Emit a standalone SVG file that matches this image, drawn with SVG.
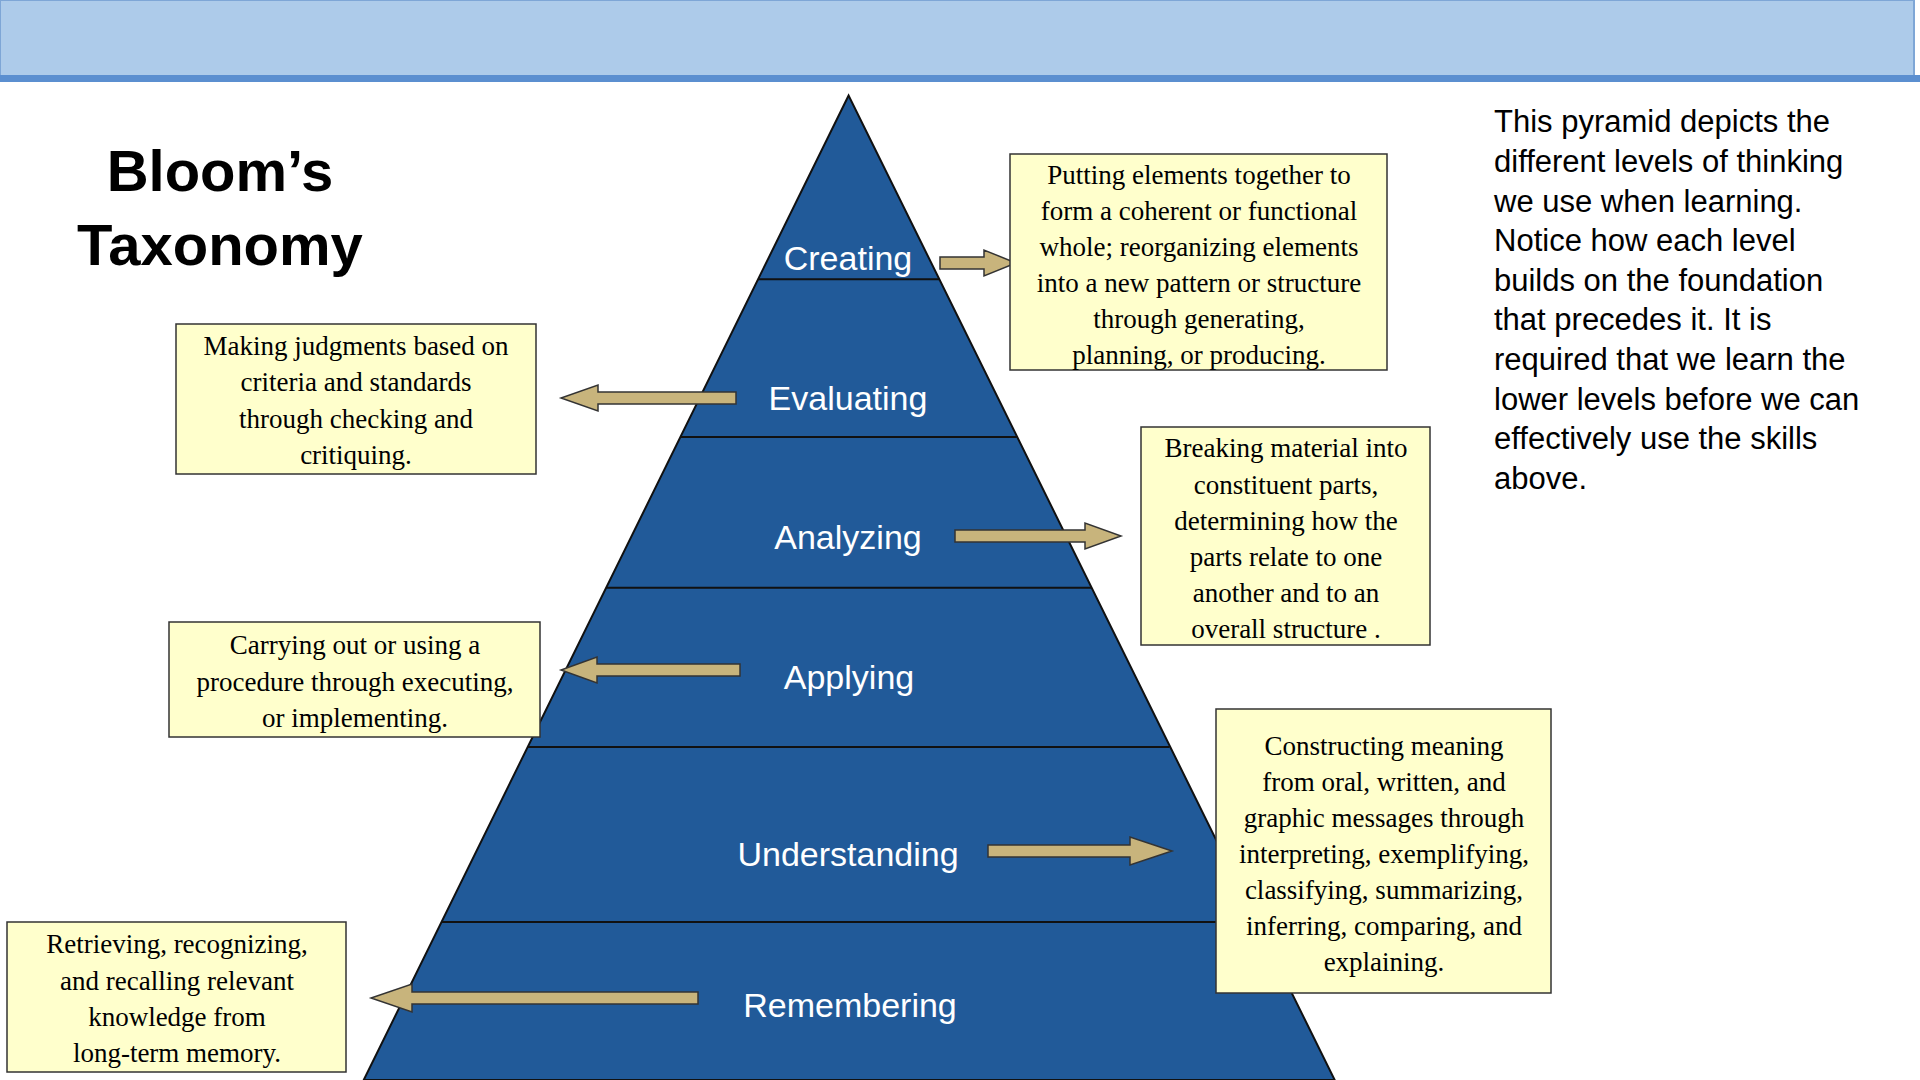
<svg xmlns="http://www.w3.org/2000/svg" width="1920" height="1080" viewBox="0 0 1920 1080">
<defs>
<style>
.box{fill:#ffffcc;stroke:#333;stroke-width:1.5}
.bt{font-family:"Liberation Serif",serif;font-size:27px;fill:#000;text-anchor:middle}
.lvl{font-family:"Liberation Sans",Arial,sans-serif;font-size:34px;fill:#fff;text-anchor:middle}
.arr{fill:#c8b47c;stroke:#333;stroke-width:1.5}
.div{stroke:#111;stroke-width:2}
.rt{font-family:"Liberation Sans",Arial,sans-serif;font-size:31px;fill:#000}
</style>
</defs>
<rect width="1920" height="1080" fill="#fff"/>
<rect x="0" y="0" width="1914" height="76" fill="#adcbea" stroke="#7ea6d6" stroke-width="2"/>
<rect x="0" y="75" width="1920" height="7" fill="#5b8fd0"/>
<g id="title" font-family="Liberation Sans,Arial,sans-serif" font-weight="bold" font-size="58" text-anchor="middle">
<text x="220" y="191">Bloom’s</text>
<text x="220" y="265">Taxonomy</text>
</g>
<g id="pyramid">
<polygon points="848.6,95.5 363.7,1080 1334.7,1080" fill="#215a99" stroke="#111" stroke-width="2"/>
<line class="div" x1="758.1" y1="279.2" x2="939.1" y2="279.2"/>
<line class="div" x1="680.3" y1="437.1" x2="1016.9" y2="437.1"/>
<line class="div" x1="606.1" y1="587.8" x2="1091.1" y2="587.8"/>
<line class="div" x1="527.7" y1="747" x2="1169.5" y2="747"/>
<line class="div" x1="441.4" y1="922.1" x2="1255.8" y2="922.1"/>
<text class="lvl" x="848" y="270">Creating</text>
<text class="lvl" x="848" y="410">Evaluating</text>
<text class="lvl" x="848" y="549">Analyzing</text>
<text class="lvl" x="849" y="689">Applying</text>
<text class="lvl" x="848" y="866">Understanding</text>
<text class="lvl" x="850" y="1017">Remembering</text>
</g>
<g id="connectors">
<polygon class="arr" points="940,257 984,257 984,250 1016,263 984,276 984,269 940,269"/>
<polygon class="arr" points="736,392 598,392 598,385 561,398 598,411 598,404 736,404"/>
<polygon class="arr" points="955,530 1085,530 1085,523 1121,536 1085,549 1085,542 955,542"/>
<polygon class="arr" points="740,664 597,664 597,657 561,670 597,683 597,676 740,676"/>
<polygon class="arr" points="988,845 1130,845 1130,837 1172,851 1130,865 1130,857 988,857"/>
<polygon class="arr" points="698,992 412,992 412,984 371,998 412,1012 412,1004 698,1004"/>
</g>
<g id="box-creating">
<rect class="box" x="1010" y="154" width="377" height="216"/>
<text class="bt" x="1199" y="184">Putting elements together to</text>
<text class="bt" x="1199" y="220">form a coherent or functional</text>
<text class="bt" x="1199" y="256">whole; reorganizing elements</text>
<text class="bt" x="1199" y="292">into a new pattern or structure</text>
<text class="bt" x="1199" y="328">through generating,</text>
<text class="bt" x="1199" y="364">planning, or producing.</text>
</g>
<g id="box-evaluating">
<rect class="box" x="176" y="324" width="360" height="150"/>
<text class="bt" x="356" y="355">Making judgments based on</text>
<text class="bt" x="356" y="391">criteria and standards</text>
<text class="bt" x="356" y="428">through checking and</text>
<text class="bt" x="356" y="464">critiquing.</text>
</g>
<g id="box-analyzing">
<rect class="box" x="1141" y="427" width="289" height="218"/>
<text class="bt" x="1286" y="457">Breaking material into</text>
<text class="bt" x="1286" y="494">constituent parts,</text>
<text class="bt" x="1286" y="530">determining how the</text>
<text class="bt" x="1286" y="566">parts relate to one</text>
<text class="bt" x="1286" y="602">another and to an</text>
<text class="bt" x="1286" y="638">overall structure .</text>
</g>
<g id="box-applying">
<rect class="box" x="169" y="622" width="371" height="115"/>
<text class="bt" x="355" y="654">Carrying out or using a</text>
<text class="bt" x="355" y="691">procedure through executing,</text>
<text class="bt" x="355" y="727">or implementing.</text>
</g>
<g id="box-understanding">
<rect class="box" x="1216" y="709" width="335" height="284"/>
<text class="bt" x="1384" y="755">Constructing meaning</text>
<text class="bt" x="1384" y="791">from oral, written, and</text>
<text class="bt" x="1384" y="827">graphic messages through</text>
<text class="bt" x="1384" y="863">interpreting, exemplifying,</text>
<text class="bt" x="1384" y="899">classifying, summarizing,</text>
<text class="bt" x="1384" y="935">inferring, comparing, and</text>
<text class="bt" x="1384" y="971">explaining.</text>
</g>
<g id="box-remembering">
<rect class="box" x="7" y="922" width="339" height="150"/>
<text class="bt" x="177" y="953">Retrieving, recognizing,</text>
<text class="bt" x="177" y="990">and recalling relevant</text>
<text class="bt" x="177" y="1026">knowledge from</text>
<text class="bt" x="177" y="1062">long-term memory.</text>
</g>
<g id="description">
<text class="rt" x="1494" y="132">This pyramid depicts the</text>
<text class="rt" x="1494" y="172">different levels of thinking</text>
<text class="rt" x="1494" y="212">we use when learning.</text>
<text class="rt" x="1494" y="251">Notice how  each level</text>
<text class="rt" x="1494" y="291">builds on the foundation</text>
<text class="rt" x="1494" y="330">that precedes it.  It is</text>
<text class="rt" x="1494" y="370">required that we learn the</text>
<text class="rt" x="1494" y="410">lower levels before we can</text>
<text class="rt" x="1494" y="449">effectively use the skills</text>
<text class="rt" x="1494" y="489">above.</text>
</g>
</svg>
